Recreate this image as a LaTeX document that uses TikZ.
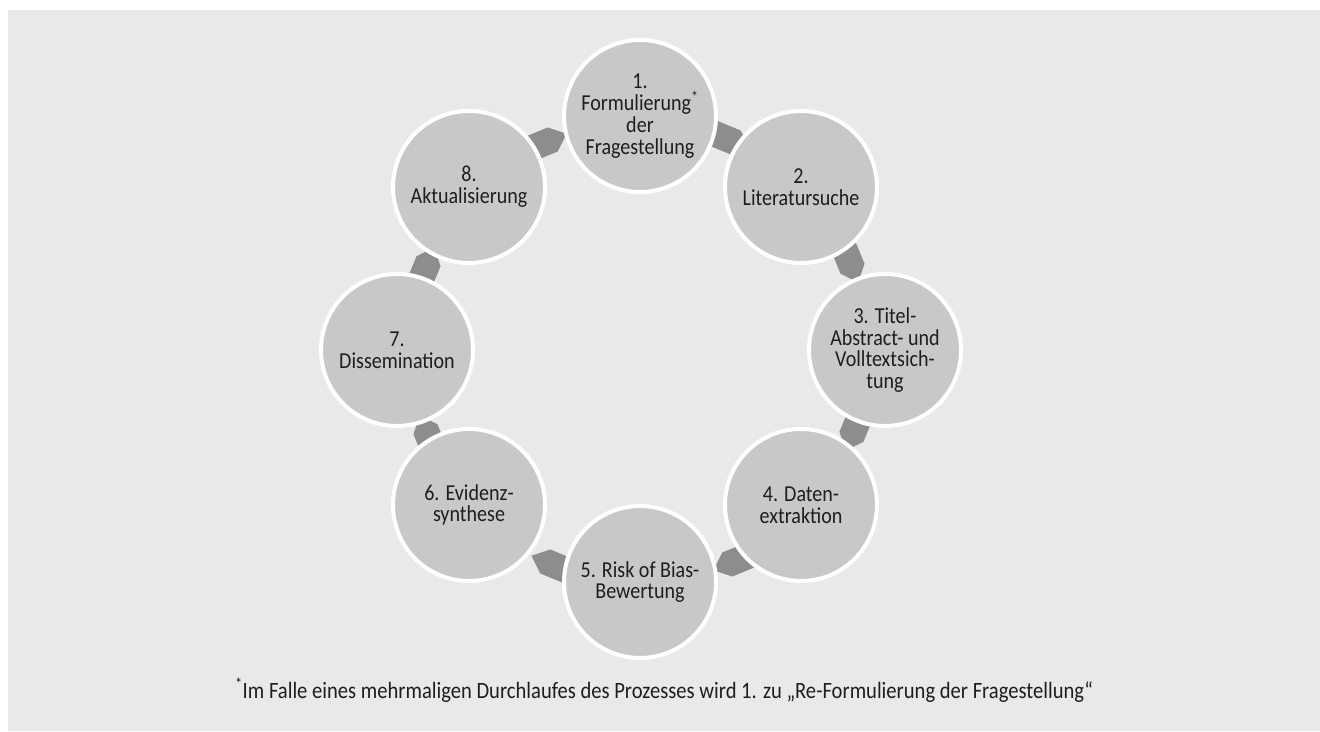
\documentclass[tikz,border=0pt]{standalone}
\usepackage{fontspec}
\setmainfont{Carlito}[FakeStretch=0.88]
\definecolor{bggray}{RGB}{233,233,233}
\definecolor{circgray}{RGB}{200,200,201}
\definecolor{arrgray}{RGB}{141,141,142}
\definecolor{txtcol}{RGB}{30,30,30}
\tikzset{
  stage/.style={circle, fill=circgray, draw=white, line width=4pt, minimum size=152pt,
    inner sep=0pt, align=center, text=txtcol, font=\fontsize{22.8}{21.8}\selectfont},
  cyc/.style={fill=arrgray, draw=none},
  note/.style={text=txtcol, font=\fontsize{23.4}{22}\selectfont, anchor=base}
}
\newcommand\cycarrow[2]{%
  \path[cyc, shift={(#1)}, rotate=#2] (-22,-13) -- (4,-13) -- (19,0) -- (4,13) -- (-22,13) -- cycle;}
\begin{document}
\begin{tikzpicture}[x=1pt,y=1pt]
\useasboundingbox (0,0) rectangle (1320,731);
\fill[bggray] (8,0) rectangle (1320,721);
% arrow positions
\coordinate (a12) at (732,590);
\coordinate (a23) at (851,466);
\coordinate (a34) at (853,298);
\coordinate (a45) at (731,168);
\coordinate (a56) at (549,168);
\coordinate (a67) at (427,298);
\coordinate (a78) at (427,466);
\coordinate (a81) at (549,590);
% arrows (drawn first, partly covered by circles)
\cycarrow{a12}{-22.5}
\cycarrow{a23}{-67.5}
\cycarrow{a34}{-112.5}
\cycarrow{a45}{-157.5}
\cycarrow{a56}{157.5}
\cycarrow{a67}{112.5}
\cycarrow{a78}{67.5}
\cycarrow{a81}{22.5}
% stages
\node[stage] (c1) at (640,615) {1.\\Formulierung\textsuperscript{*}\\der\\Fragestellung};
\node[stage] (c2) at (801,544) {2.\\Literatursuche};
\node[stage] (c3) at (885,381) {3. Titel-\\Abstract- und\\Volltextsich-\\tung};
\node[stage] (c4) at (801,226) {4. Daten-\\extraktion};
\node[stage] (c5) at (640,149) {5. Risk of Bias-\\Bewertung};
\node[stage] (c6) at (469,226) {6. Evidenz-\\synthese};
\node[stage] (c7) at (397,381) {7.\\Dissemination};
\node[stage] (c8) at (469,544) {8.\\Aktualisierung};
% footnote
\node[note] (fn) at (664,32) {\textsuperscript{*}Im Falle eines mehrmaligen Durchlaufes des Prozesses wird 1. zu „Re-Formulierung der Fragestellung“};
\end{tikzpicture}
\end{document}
